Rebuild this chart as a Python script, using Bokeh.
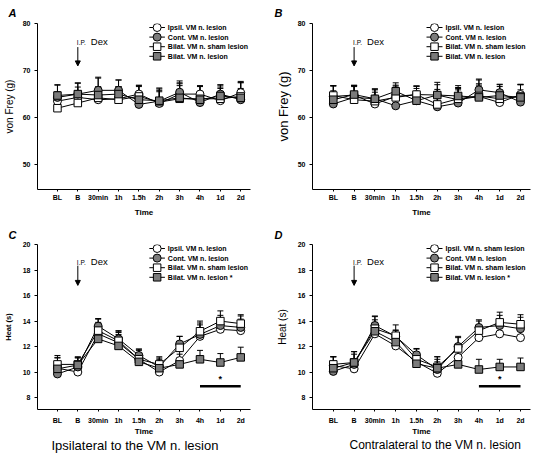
from bokeh.plotting import figure
from bokeh.models import (ColumnDataSource, Range1d, FixedTicker, Whisker, TeeHead,
                          Arrow, NormalHead, Label, Title)
from bokeh.layouts import gridplot
from bokeh.core.properties import value
from bokeh.embed import file_html
from bokeh.resources import INLINE

FONT = "Liberation Sans"

# ---------------- data ----------------
time_labels = ["BL", "B", "30min", "1h", "1.5h", "2h", "3h", "4h", "1d", "2d"]

# A: von Frey, ipsilateral
a_ipsil = [63.5, 64.3, 63.8, 64.0, 65.0, 63.0, 65.0, 65.0, 63.6, 65.3]
a_cont = [64.3, 65.0, 65.8, 65.8, 62.8, 63.5, 65.4, 63.2, 65.0, 63.8]
a_sham = [62.0, 63.1, 64.2, 63.8, 64.5, 63.3, 64.0, 64.0, 64.0, 64.5]
a_lesion = [64.7, 65.0, 64.8, 65.0, 63.8, 63.6, 64.2, 63.8, 64.6, 64.2]
a_ipsil_err = [2.0, 2.2, 2.3, 2.6, 1.8, 2.5, 2.2, 1.8, 2.6, 2.4]
a_cont_err = [2.6, 2.3, 2.8, 2.2, 2.6, 2.8, 2.4, 2.2, 2.0, 2.4]
a_sham_err = [2.5, 2.6, 2.4, 2.8, 2.4, 2.5, 2.8, 2.6, 2.5, 2.9]
a_lesion_err = [2.3, 2.4, 3.6, 3.0, 2.8, 2.5, 3.2, 2.9, 2.3, 3.3]

# B: von Frey, contralateral
b_ipsil = [64.5, 64.8, 62.9, 64.5, 64.9, 64.8, 63.8, 64.5, 63.2, 64.9]
b_cont = [62.9, 64.3, 64.0, 62.5, 63.6, 62.3, 63.1, 65.9, 65.3, 63.3]
b_sham = [64.7, 63.8, 63.5, 64.3, 64.9, 62.8, 64.0, 64.6, 64.0, 64.5]
b_lesion = [63.8, 64.9, 64.0, 65.6, 63.6, 64.8, 64.6, 64.3, 64.7, 64.3]
b_ipsil_err = [2.2, 2.0, 2.5, 2.2, 1.8, 2.7, 2.4, 2.4, 2.0, 2.2]
b_cont_err = [2.8, 2.6, 2.1, 2.6, 2.6, 2.6, 2.8, 2.3, 1.8, 2.6]
b_sham_err = [2.1, 2.8, 2.4, 2.6, 1.8, 3.2, 2.4, 2.6, 2.6, 2.5]
b_lesion_err = [3.0, 1.9, 2.1, 1.8, 3.1, 2.2, 2.2, 3.7, 2.3, 2.7]

# C: heat, ipsilateral
c_ipsil = [10.3, 10.0, 13.0, 12.3, 11.0, 10.0, 10.9, 12.8, 13.35, 13.25]
c_cont = [9.85, 10.4, 13.6, 12.6, 11.3, 10.4, 12.2, 12.95, 13.65, 13.5]
c_sham = [10.6, 10.6, 13.25, 12.45, 11.0, 10.6, 11.9, 13.2, 14.0, 13.8]
c_lesion = [10.25, 10.55, 12.6, 12.05, 10.8, 10.3, 10.6, 11.0, 10.75, 11.15]
c_ipsil_err = [0.8, 0.7, 0.9, 0.8, 0.7, 0.8, 0.9, 0.9, 0.9, 0.9]
c_cont_err = [0.9, 0.7, 0.6, 0.6, 0.5, 0.7, 0.6, 0.9, 0.8, 0.9]
c_sham_err = [0.7, 0.6, 0.9, 0.8, 0.8, 0.6, 0.9, 0.8, 0.8, 0.7]
c_lesion_err = [0.9, 0.6, 1.0, 0.9, 0.6, 0.7, 0.8, 0.7, 0.7, 0.8]

# D: heat, contralateral
d_ipsil = [10.5, 10.25, 13.0, 12.05, 10.8, 9.9, 11.15, 12.7, 13.0, 12.7]
d_cont = [10.05, 10.6, 13.65, 12.8, 11.35, 10.2, 12.0, 13.5, 13.65, 13.4]
d_sham = [10.6, 10.75, 13.4, 12.85, 11.0, 10.4, 11.85, 13.25, 13.9, 13.75]
d_lesion = [10.3, 10.75, 13.2, 12.35, 10.65, 10.3, 10.6, 10.2, 10.4, 10.4]
d_ipsil_err = [0.7, 0.8, 0.9, 0.8, 0.7, 0.9, 0.8, 0.9, 0.8, 0.9]
d_cont_err = [0.8, 0.8, 0.7, 0.5, 0.5, 0.8, 0.7, 0.6, 0.8, 0.9]
d_sham_err = [0.6, 0.85, 1.0, 0.85, 0.8, 0.8, 0.95, 0.75, 0.8, 0.75]
d_lesion_err = [0.9, 0.85, 0.9, 0.9, 0.7, 0.9, 0.8, 0.8, 0.6, 0.7]

legend_ab = ["Ipsil. VM n. lesion", "Cont. VM n. lesion",
             "Bilat. VM n. sham lesion", "Bilat. VM n. lesion"]
legend_c = ["Ipsil. VM n. lesion", "Cont. VM n. lesion",
            "Bilat. VM n. sham lesion", "Bilat. VM n. lesion  *"]
legend_d = ["Ipsil. VM n. sham lesion", "Cont. VM n. lesion",
            "Bilat. VM n. sham lesion", "Bilat. VM n. lesion  *"]

vf_ticks = [50, 60, 70, 80]
heat_ticks = [8, 10, 12, 14, 16, 18, 20]

# significance bar (indices of time points) and its level
sig_start = [7]
sig_end = [9]
sig_level = [8.88]
sig_star_level = [9.45]

# ---------------- styles ----------------
GRAY = "#7b7b7b"
styles = [  # marker, fill
    ("circle", "white"),
    ("circle", GRAY),
    ("square", "white"),
    ("square", GRAY),
]


def make_panel(series, errs, labels, yr, yticks, letter, ylabel, ylab_size, ylab_bold,
               ylab_standoff, width, height, bl, br, bt, bb, xr, leg_left, leg_top, arrow,
               letter_standoff, caption=None, cap_offset=0, cap_size=13, sig=False,
               xlab_standoff=2, time_standoff=4):
    fw = width - bl - br
    fh = height - bt - bb
    p = figure(width=width, height=height, x_range=Range1d(*xr), y_range=Range1d(*yr),
               output_backend="svg", toolbar_location=None,
               min_border_left=bl, min_border_right=br, min_border_top=bt,
               min_border_bottom=bb, outline_line_color=None,
               background_fill_color="white", border_fill_color="white")
    p.xgrid.visible = False
    p.ygrid.visible = False
    p.extra_x_ranges = {"px": Range1d(0, fw)}
    p.extra_y_ranges = {"px": Range1d(0, fh)}

    # panel letter
    p.title.text = letter
    p.title.align = "left"
    p.title.offset = -bl + 2
    p.title.standoff = letter_standoff
    p.title.text_font = FONT
    p.title.text_font_size = "11px"
    p.title.text_font_style = "bold italic"
    p.title.text_color = "black"

    x = list(range(len(time_labels)))
    # error bars
    for s, e in zip(series, errs):
        src = ColumnDataSource(dict(x=x, y=s, up=[v + d for v, d in zip(s, e)]))
        w = Whisker(base="x", lower="y", upper="up", source=src, line_color="black",
                    line_width=1, lower_head=None,
                    upper_head=TeeHead(size=6, line_color="black", line_width=1))
        p.add_layout(w)
    for s in series:
        p.line(x, s, line_color="black", line_width=1)
    for s, (mk, fill) in zip(series, styles):
        p.scatter(x, s, marker=mk, size=8 if mk == "circle" else 7.5,
                  fill_color=fill, line_color="black", line_width=1)

    # axes
    p.xaxis.ticker = FixedTicker(ticks=x)
    p.xaxis.major_label_overrides = {i: t for i, t in enumerate(time_labels)}
    p.yaxis.ticker = FixedTicker(ticks=yticks)
    for ax in (p.xaxis[0], p.yaxis[0]):
        ax.axis_line_color = "black"
        ax.axis_line_width = 1
        ax.major_tick_line_color = "black"
        ax.minor_tick_line_color = None
        ax.major_tick_in = 0
        ax.major_label_text_font = FONT
        ax.major_label_text_font_style = "bold"
        ax.major_label_text_font_size = "7px"
        ax.major_label_text_color = "black"
        ax.axis_label_text_font = FONT
        ax.axis_label_text_color = "black"
    p.xaxis.major_tick_out = 2
    p.yaxis.major_tick_out = 3
    p.xaxis.major_label_standoff = xlab_standoff
    p.yaxis.major_label_standoff = 4
    p.xaxis.axis_label = "Time"
    p.xaxis.axis_label_text_font_style = "bold"
    p.xaxis.axis_label_text_font_size = "8px"
    p.xaxis.axis_label_standoff = time_standoff
    p.yaxis.axis_label = ylabel
    p.yaxis.axis_label_text_font_size = f"{ylab_size}px"
    p.yaxis.axis_label_text_font_style = "bold" if ylab_bold else "normal"
    p.yaxis.axis_label_standoff = ylab_standoff

    # legend (drawn in pixel coordinates of the frame)
    rows = [fh - (leg_top + 9.6 * i) for i in range(4)]
    for ry, (mk, fill) in zip(rows, styles):
        p.segment(x0=[leg_left - 8], y0=[ry], x1=[leg_left + 8], y1=[ry],
                  line_color="black", line_width=1, x_range_name="px", y_range_name="px")
        p.scatter([leg_left], [ry], marker=mk, size=8 if mk == "circle" else 7.5,
                  fill_color=fill, line_color="black", line_width=1,
                  x_range_name="px", y_range_name="px")
    p.text(x=[leg_left + 11] * 4, y=rows, text=labels, text_font=value(FONT),
           text_font_size="7px", text_font_style="bold", text_baseline="middle",
           text_align="left", text_color="black", x_range_name="px", y_range_name="px")

    # I.P. Dex arrow
    a_top, a_tip, a_txt = arrow
    p.add_layout(Arrow(end=NormalHead(size=5, fill_color="black", line_color="black",
                                      line_width=1),
                       x_start=1, y_start=a_top, x_end=1, y_end=a_tip,
                       line_color="black", line_width=1))
    p.add_layout(Label(x=1, y=a_txt, x_offset=-1, text="I.P.", text_font=FONT,
                       text_font_size="6.5px", text_baseline="middle",
                       text_color="black"))
    p.add_layout(Label(x=1, y=a_txt, x_offset=13, y_offset=1, text="Dex", text_font=FONT,
                       text_font_size="9.5px", text_baseline="middle",
                       text_color="black"))

    if sig:
        p.segment(x0=sig_start, y0=sig_level, x1=sig_end, y1=sig_level,
                  line_color="black", line_width=2.5)
        p.text(x=[(a + b) / 2 for a, b in zip(sig_start, sig_end)], y=sig_star_level,
               text=["*"], text_font=value(FONT), text_font_size="9px",
               text_font_style="bold", text_align="center", text_baseline="middle",
               text_color="black")

    if caption:
        p.add_layout(Title(text=caption, align="left", offset=cap_offset, standoff=-6,
                           text_font=FONT, text_font_size=f"{cap_size}px",
                           text_font_style="normal", text_color="black"), "below")
    return p


pA = make_panel([a_ipsil, a_cont, a_sham, a_lesion],
                [a_ipsil_err, a_cont_err, a_sham_err, a_lesion_err],
                legend_ab, (44.7, 80.02), vf_ticks, "A", "von Frey (g)", 10, False, 5,
                272, 220, 31, 22, 23, 31, (-0.98, 9.48), 123, 4, (75.0, 71.0, 76.0), 9)
pB = make_panel([b_ipsil, b_cont, b_sham, b_lesion],
                [b_ipsil_err, b_cont_err, b_sham_err, b_lesion_err],
                legend_ab, (44.7, 80.02), vf_ticks, "B", "von Frey (g)", 13, False, 4,
                271, 220, 40, 13, 23, 31, (-1.0, 9.48), 122, 4, (75.0, 71.0, 76.0), 9)
pC = make_panel([c_ipsil, c_cont, c_sham, c_lesion],
                [c_ipsil_err, c_cont_err, c_sham_err, c_lesion_err],
                legend_c, (7.06, 20.01), heat_ticks, "C", "Heat (s)", 7.5, True, 7,
                272, 235, 31, 22, 24, 46, (-0.98, 9.48), 123, 4, (18.35, 16.8, 18.6), 8,
                caption="Ipsilateral to the VM n. lesion", cap_offset=14, cap_size=13,
                sig=True, xlab_standoff=5, time_standoff=0)
pD = make_panel([d_ipsil, d_cont, d_sham, d_lesion],
                [d_ipsil_err, d_cont_err, d_sham_err, d_lesion_err],
                legend_d, (7.06, 20.01), heat_ticks, "D", "Heat (s)", 10, False, 7,
                271, 235, 40, 13, 24, 46, (-1.0, 9.48), 122, 4, (18.35, 16.8, 18.6), 8,
                caption="Contralateral to the VM n. lesion", cap_offset=37, cap_size=12,
                sig=True, xlab_standoff=5, time_standoff=0)

grid = gridplot([[pA, pB], [pC, pD]], toolbar_location=None)

open("out.html", "w").write(file_html(grid, INLINE))
